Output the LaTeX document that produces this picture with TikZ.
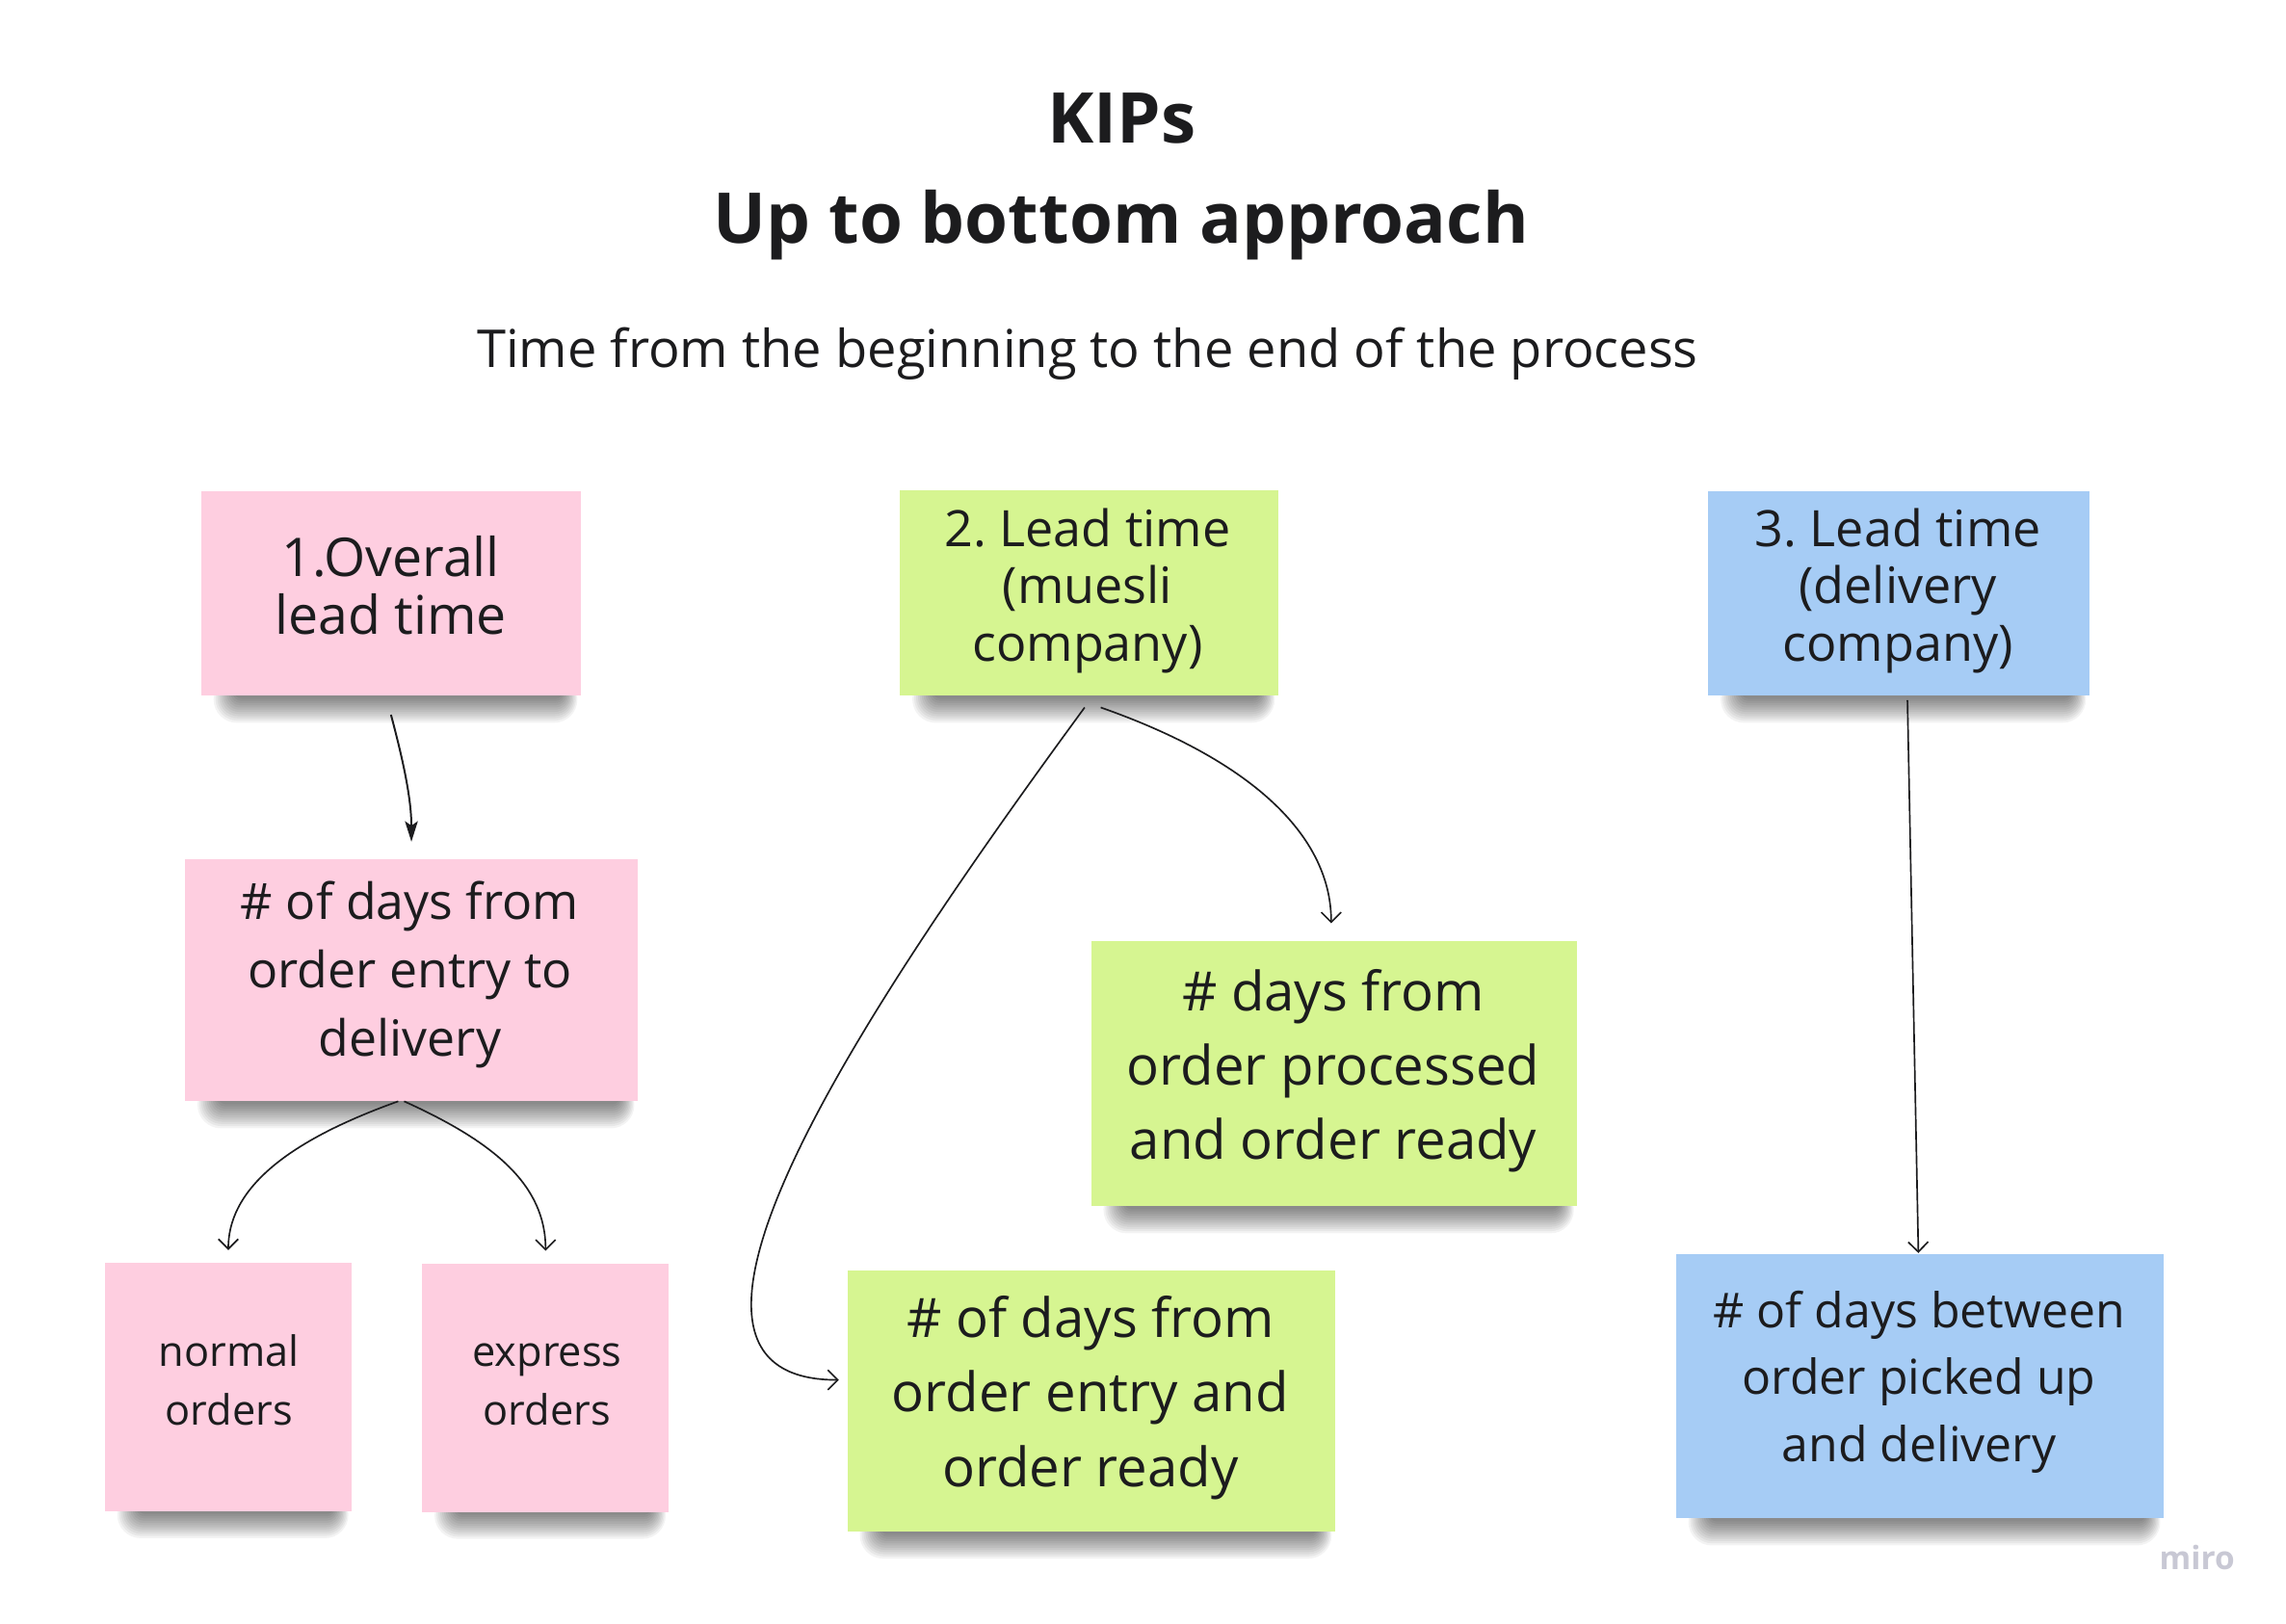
\documentclass[tikz,border=0pt]{standalone}
\usepackage{fontspec}
\setmainfont{Open Sans}
\usetikzlibrary{arrows.meta,calc}
\pgfdeclarelayer{back}
\pgfdeclarelayer{bg}
\pgfsetlayers{back,bg,main}
\frenchspacing
\definecolor{pinkS}{RGB}{254,206,224}
\definecolor{greenS}{RGB}{214,245,145}
\definecolor{blueS}{RGB}{166,204,245}
\definecolor{ink}{RGB}{28,28,30}
\definecolor{miroC}{RGB}{200,200,212}
\newcommand\stickshadow[1]{%
  \foreach \k in {1,...,12}{%
    \fill[black, opacity=0.048, rounded corners=2pt+0.5pt*\k]
      ($(#1.south west)+(24-1.3*\k,-14)$) rectangle ($(#1.south east)+(-13+0.9*\k,0.5+1.5*\k)$);
  }}
\begin{document}
\begin{tikzpicture}[x=0.5pt,y=-0.5pt,
  sticky/.style={draw=none, inner sep=0pt, outer sep=0pt},
  lbl/.style={inner sep=0pt, align=center, text=ink, anchor=base},
  conn/.style={line width=0.55pt, draw=ink, -{Straight Barb[length=3.4pt,width=6.8pt]}},
  connS/.style={line width=0.65pt, draw=ink, -{Stealth[length=7pt,width=4.4pt,inset=1.5pt]}}]
\begin{pgfonlayer}{back}
\fill[white] (0,0) rectangle (1567,1113);
\end{pgfonlayer}
\useasboundingbox (0,0) rectangle (1567,1113);

% titles
\node[lbl, font=\bfseries\fontsize{24}{24}\selectfont] (title1) at (769,98) {KIPs};
\node[lbl, font=\bfseries\fontsize{24}{24}\selectfont] (title2) at (768.5,167) {Up to bottom approach};
\node[lbl, font=\fontsize{17.9}{19}\selectfont] (sub) at (745.5,252) {Time from the beginning to the end of the process};

% sticky notes
\node[sticky, fill=pinkS, minimum width=130pt, minimum height=70pt] (b1) at (268,407) {};
\node[sticky, fill=greenS, minimum width=129.5pt, minimum height=70.5pt] (b2) at (746.5,406.5) {};
\node[sticky, fill=blueS, minimum width=130.5pt, minimum height=70pt] (b3) at (1301.5,407) {};
\node[sticky, fill=pinkS, minimum width=155pt, minimum height=83pt] (b4) at (282,672) {};
\node[sticky, fill=pinkS, minimum width=84.5pt, minimum height=85pt] (b5) at (156.5,951) {};
\node[sticky, fill=pinkS, minimum width=84.5pt, minimum height=85pt] (b6) at (374,951.5) {};
\node[sticky, fill=greenS, minimum width=166.5pt, minimum height=91pt] (b7) at (914.5,736) {};
\node[sticky, fill=greenS, minimum width=167pt, minimum height=89.5pt] (b8) at (748,960.5) {};
\node[sticky, fill=blueS, minimum width=167pt, minimum height=90.5pt] (b9) at (1316,950.5) {};

\begin{pgfonlayer}{bg}
  \foreach \b in {b1,b2,b3,b4,b5,b6,b7,b8,b9}{\stickshadow{\b}}
\end{pgfonlayer}

% labels (anchored at the baseline of the last line)
\node[lbl, font=\fontsize{18.3}{20}\selectfont] (t1) at (268,435) {1.Overall\\lead time};
\node[lbl, font=\fontsize{17.2}{19.5}\selectfont] (t2) at (745.5,453) {2. Lead time\\(muesli\\company)};
\node[lbl, font=\fontsize{17.2}{19.5}\selectfont] (t3) at (1301,453) {3. Lead time\\(delivery\\company)};
\node[lbl, font=\fontsize{17.1}{23.5}\selectfont] (t4) at (281,724) {\# of days from\\order entry to\\delivery};
\node[lbl, font=\fontsize{14.3}{20}\selectfont] (t5) at (157,977) {normal\\orders};
\node[lbl, font=\fontsize{14.3}{20}\selectfont] (t6) at (375,977) {express\\orders};
\node[lbl, font=\fontsize{18.6}{25.5}\selectfont] (t7) at (914,795) {\# days from\\order processed\\and order ready};
\node[lbl, font=\fontsize{18.6}{25.5}\selectfont] (t8) at (747.5,1019) {\# of days from\\order entry and\\order ready};
\node[lbl, font=\fontsize{16.5}{23}\selectfont] (t9) at (1315.5,1002) {\# of days between\\order picked up\\and delivery};

\node[lbl, font=\bfseries\fontsize{11}{11}\selectfont, text=miroC] (miro) at (1506,1076) {miro};

% connectors
\draw[connS] ($(b1.south)+(0,13)$) .. controls +(8,30) and +(0,-30) .. ($(b4.north)+(0,-12)$);
\draw[conn] ($(b4.south)+(-9,0)$) .. controls +(-70,25) and +(0,-45) .. ($(b5.north)+(0,-9)$);
\draw[conn] ($(b4.south)+(-5,0)$) .. controls +(62,28) and +(0,-45) .. ($(b6.north)+(0,-9)$);
\draw[conn] ($(b2.south)+(-3,8)$) .. controls +(-143,195) and +(-155,0) .. ($(b8.west)+(-6,-14.5)$);
\draw[conn] ($(b2.south)+(8,8)$) .. controls +(100,35) and +(0,-62) .. ($(b7.north)+(-2,-12)$);
\draw[conn] ($(b3.south)+(6,3)$) -- ($(b9.north)+(-1,-1)$);
\end{tikzpicture}
\end{document}
